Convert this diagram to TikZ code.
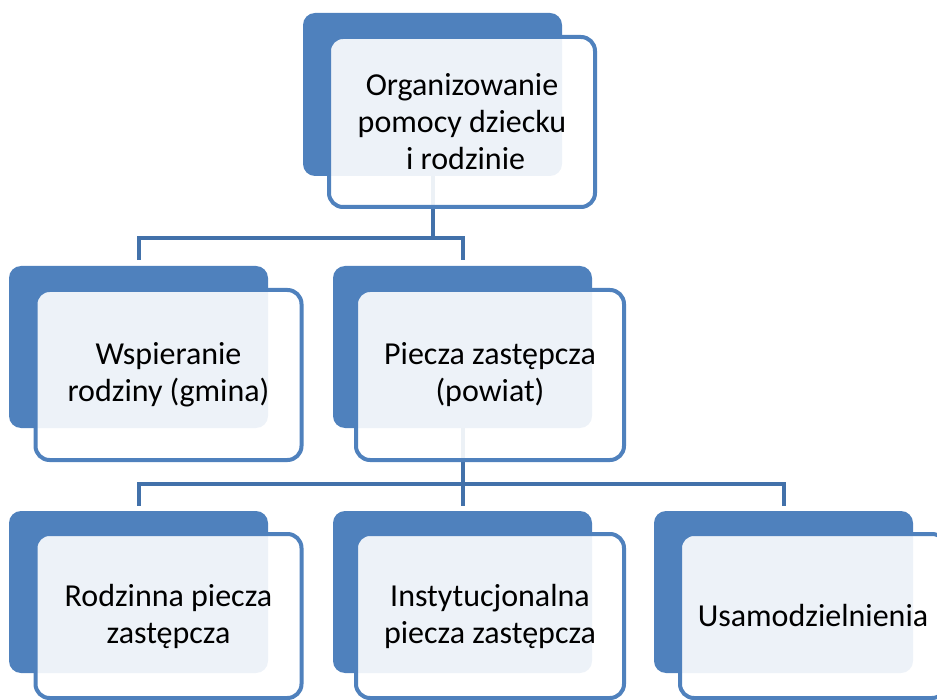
\documentclass[tikz,border=0pt]{standalone}
\usepackage{fontspec}
\setmainfont{Carlito}
\definecolor{boxblue}{RGB}{79,129,189}
\definecolor{connblue}{RGB}{66,113,170}
\begin{document}
\begin{tikzpicture}[x=1pt,y=-1pt,
  backbox/.style={draw=none,fill=boxblue,rounded corners=12pt,minimum width=259pt,minimum height=162pt,inner sep=0pt},
  frontbox/.style={draw=boxblue,line width=4pt,fill=white,fill opacity=0.9,text opacity=1,rounded corners=14pt,minimum width=266pt,minimum height=170pt,inner sep=0pt,align=center,font=\fontsize{32}{37}\selectfont},
  conn/.style={draw=connblue,line width=4pt}]
\useasboundingbox (0,0) rectangle (937,700);
% back boxes
\node[backbox,minimum height=163pt] (bt) at (432.5,94.5) {};
\node[backbox] (bw) at (138.5,347) {};
\node[backbox] (bp) at (462.5,347) {};
\node[backbox] (bl) at (138.5,592) {};
\node[backbox] (bi) at (462.5,592) {};
\node[backbox] (br) at (783.5,592) {};
% junction coordinates
\coordinate (j1) at (0,238);
\coordinate (j2) at (0,484);
% connectors
\draw[conn] (bt.south) -- (bt.south |- j1);
\draw[conn] ([yshift=6pt]bw.north) -- (bw.north |- j1) -- (bp.north |- j1) -- ([yshift=6pt]bp.north);
\draw[conn] (bp.south) -- ([yshift=5pt]bi.north);
\draw[conn] ([yshift=5pt]bl.north) -- (bl.north |- j2) -- (br.north |- j2) -- ([yshift=5pt]br.north);
% front boxes
\node[frontbox] (ft) at (462,122) {Organizowanie\\pomocy dziecku\\\ i rodzinie};
\node[frontbox] (fw) at (168.5,375) {Wspieranie\\rodziny (gmina)};
\node[frontbox,minimum width=268pt] (fp) at (490,375) {Piecza zastępcza\\(powiat)};
\node[frontbox,minimum height=164pt] (fl) at (168.5,616) {Rodzinna piecza\\zastępcza};
\node[frontbox,minimum height=164pt,minimum width=268pt] (fi) at (490,616) {Instytucjonalna\\piecza zastępcza};
\node[frontbox,minimum height=164pt] (fr) at (813,616) {Usamodzielnienia};
\end{tikzpicture}
\end{document}
